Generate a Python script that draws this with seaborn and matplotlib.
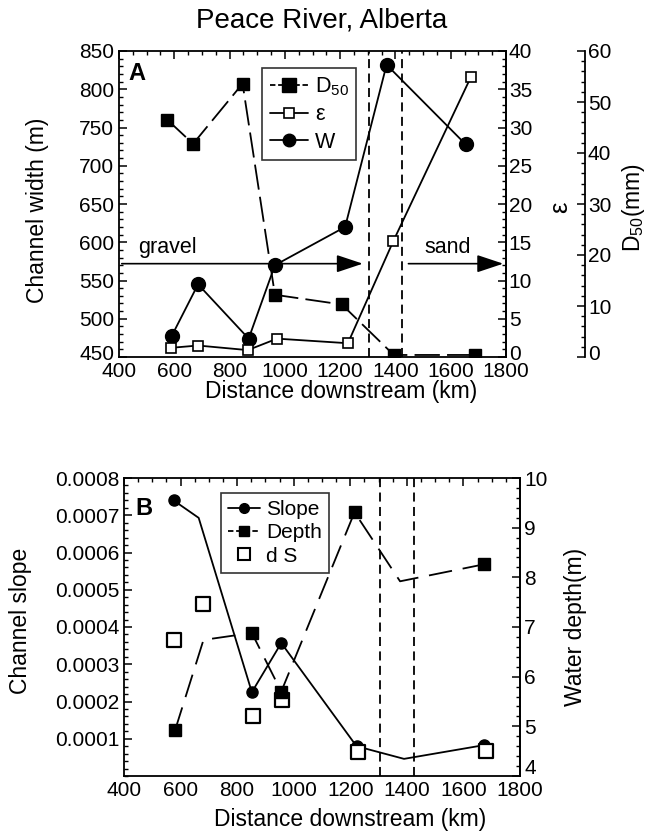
import matplotlib
matplotlib.use("Agg")
import matplotlib.pyplot as plt
from matplotlib.lines import Line2D
from matplotlib.ticker import MultipleLocator, FixedLocator, FuncFormatter
from matplotlib.transforms import ScaledTranslation
import seaborn as sns

sns.set_style("white")
plt.rcParams["font.family"] = ["Liberation Sans", "DejaVu Sans"]
plt.rcParams["mathtext.fontset"] = "custom"
plt.rcParams["mathtext.rm"] = "Liberation Sans"
plt.rcParams["mathtext.it"] = "Liberation Sans"
for key in ["text.color", "axes.labelcolor", "xtick.color", "ytick.color",
            "axes.edgecolor"]:
    plt.rcParams[key] = "black"

# ---------------- data (panel A) ----------------
w_km = [590, 686, 869, 964, 1218, 1368, 1654]
w_m = [477, 545, 474, 570, 620, 832, 728]
d50_km = [575, 668, 847, 964, 1206, 1394, 1687]
d50_mm = [46.5, 41.8, 53.6, 12.2, 10.3, 0.4, 0.4]
eps_km = [588, 686, 866, 972, 1228, 1393, 1673]
eps_val = [1.2, 1.5, 0.9, 2.4, 1.8, 15.2, 36.6]
transition_km = [1305, 1425]
arrow_level = 572

# ---------------- data (panel B) ----------------
slope_km = [575, 664, 852, 956, 1222, 1390, 1674]
slope_val = [0.00074, 0.000693, 0.000225, 0.000357, 0.00008, 0.000046, 0.000083]
slope_marked = [0, 2, 3, 4, 6]
depth_km = [581, 681, 852, 956, 1215, 1376, 1671]
depth_m = [4.93, 6.74, 6.88, 5.7, 9.31, 7.92, 8.26]
depth_marked = [0, 2, 3, 4, 6]
ds_km = [578, 681, 855, 959, 1227, 1681]
ds_val = [0.000365, 0.000462, 0.000161, 0.000204, 0.0000643, 0.0000662]

TICK = 15
LAB = 16.5
LEG = 15.5

fig = plt.figure(figsize=(6.57, 8.35), dpi=100)

W, H = 657, 835
def rect(l, r, t, b):
    return [l / W, 1 - b / H, (r - l) / W, (b - t) / H]

def style_ticks(a, which_axes="both", **kw):
    a.tick_params(axis=which_axes, which="both", direction="in", labelsize=TICK,
                  colors="black", **kw)
    a.tick_params(axis=which_axes, which="major", length=6, width=1.1)
    a.tick_params(axis=which_axes, which="minor", length=3, width=1)

def raise_label(a, text, px):
    for lab in a.get_yticklabels():
        if lab.get_text() == text:
            lab.set_transform(lab.get_transform() +
                              ScaledTranslation(0, px / 100, fig.dpi_scale_trans))

# ================= Panel A =================
ax = fig.add_axes(rect(119, 506, 51, 357))
ax2 = ax.twinx()
ax3 = ax.twinx()
ax3.spines["right"].set_position(("outward", 57))
for s in ["left", "top", "bottom"]:
    ax3.spines[s].set_visible(False)
    ax2.spines[s].set_visible(False)

lk = dict(color="black", lw=1.3, errorbar=None, legend=False)
sns.lineplot(x=d50_km, y=d50_mm, ax=ax3, marker="s", markersize=9,
             mfc="black", mec="black", mew=1, linestyle=(0, (14, 4)), **lk)
sns.lineplot(x=eps_km, y=eps_val, ax=ax2, marker="s", markersize=6.5,
             mfc="white", mec="black", mew=1.2, **lk)
sns.lineplot(x=w_km, y=w_m, ax=ax, marker="o", markersize=10,
             mfc="black", mec="black", mew=1, **lk)

ax.set_xlim(400, 1800)
ax.set_ylim(450, 850)
ax2.set_ylim(0, 40)
ax3.set_ylim(0, 60)

for xk in transition_km:
    ax.axvline(xk, color="black", lw=1.3, linestyle=(0, (5, 3)))

arw = dict(arrowstyle="-|>,head_length=0.9,head_width=0.3", color="black",
           lw=1.2, mutation_scale=18)
ax.annotate("", xy=(1292, arrow_level), xytext=(400, arrow_level), arrowprops=arw)
ax.annotate("", xy=(1800, arrow_level), xytext=(1437, arrow_level), arrowprops=arw)
ax.text(470, arrow_level + 8, "gravel", fontsize=TICK + 0.5, ha="left", va="bottom")
ax.text(1590, arrow_level + 8, "sand", fontsize=TICK + 0.5, ha="center", va="bottom")

ax.xaxis.set_major_locator(MultipleLocator(200))
ax.xaxis.set_minor_locator(MultipleLocator(50))
ax.yaxis.set_major_locator(MultipleLocator(50))
ax.yaxis.set_minor_locator(MultipleLocator(10))
ax2.yaxis.set_major_locator(MultipleLocator(5))
ax2.yaxis.set_minor_locator(MultipleLocator(1))
ax3.yaxis.set_major_locator(MultipleLocator(10))
ax3.yaxis.set_minor_locator(MultipleLocator(2))

style_ticks(ax, top=True, right=False)
style_ticks(ax2, "y", pad=2)
style_ticks(ax3, "y", pad=2)

for s in ax.spines.values():
    s.set_linewidth(1.3)
    s.set_color("black")
ax2.spines["right"].set_linewidth(1.3)
ax3.spines["right"].set_linewidth(1.3)

ax.set_xlabel("Distance downstream (km)", fontsize=LAB)
ax.xaxis.set_label_coords(0.574, -0.075)
ax.set_ylabel("Channel width (m)", fontsize=LAB)
ax.yaxis.set_label_coords(-0.18, 0.48)
ax2.set_ylabel("ε", fontsize=LAB + 2)
ax2.yaxis.set_label_coords(1.11, 0.49)
ax3.set_ylabel(r"D$_{50}$(mm)", fontsize=LAB)
ax3.yaxis.set_label_coords(1.295, 0.49)

raise_label(ax, "450", 5)
raise_label(ax2, "0", 5)
raise_label(ax3, "0", 4)

fig.text(0.49, 0.975, "Peace River, Alberta", fontsize=20, ha="center", va="center")
ax.text(0.025, 0.965, "A", transform=ax.transAxes, fontsize=17, fontweight="bold",
        ha="left", va="top")

hA = [Line2D([], [], color="black", lw=1.3, linestyle=(0, (3, 1.5)), marker="s",
             markersize=10, mfc="black", mec="black"),
      Line2D([], [], color="black", lw=1.3, marker="s", markersize=7, mfc="white",
             mec="black", mew=1.2),
      Line2D([], [], color="black", lw=1.3, marker="o", markersize=9, mfc="black",
             mec="black")]
legA = ax3.legend(hA, [r"D$_{50}$", "ε", "W"], loc="upper left",
                  bbox_to_anchor=(0.37, 0.945), fontsize=LEG, frameon=True,
                  fancybox=False, edgecolor="black", handlelength=1.8,
                  handletextpad=0.3, borderpad=0.35, labelspacing=0.3,
                  borderaxespad=0)
legA.get_frame().set_linewidth(1.2)

# ================= Panel B =================
bx = fig.add_axes(rect(124, 520, 478, 776))
bx2 = bx.twinx()
for s in ["left", "top", "bottom"]:
    bx2.spines[s].set_visible(False)

sns.lineplot(x=slope_km, y=slope_val, ax=bx, marker="o", markersize=8,
             markevery=slope_marked, mfc="black", mec="black", mew=1, **lk)
sns.lineplot(x=depth_km, y=depth_m, ax=bx2, marker="s", markersize=8,
             markevery=depth_marked, mfc="black", mec="black", mew=1,
             linestyle=(0, (13, 6)), **lk)
sns.scatterplot(x=ds_km, y=ds_val, ax=bx, marker="s", s=110, color="white",
                edgecolor="black", linewidth=1.6, zorder=3, legend=False)

bx.set_xlim(400, 1800)
bx.set_ylim(0, 0.0008)
bx2.set_ylim(4, 10)

for xk in transition_km:
    bx.axvline(xk, color="black", lw=1.3, linestyle=(0, (5, 3)))

bx.xaxis.set_major_locator(MultipleLocator(200))
bx.xaxis.set_minor_locator(MultipleLocator(50))
bx.yaxis.set_major_locator(FixedLocator([0.0001, 0.0002, 0.0003, 0.0004,
                                         0.0005, 0.0006, 0.0007, 0.0008]))
bx.yaxis.set_minor_locator(MultipleLocator(0.00002))
bx.yaxis.set_major_formatter(FuncFormatter(lambda v, p: f"{v:.4f}"))
bx2.yaxis.set_major_locator(MultipleLocator(1))
bx2.yaxis.set_minor_locator(MultipleLocator(0.2))

style_ticks(bx, top=True, right=False)
style_ticks(bx2, "y", pad=3)
for s in bx.spines.values():
    s.set_linewidth(1.3)
    s.set_color("black")
bx2.spines["right"].set_linewidth(1.3)

raise_label(bx2, "4", 9)

bx.set_xlabel("Distance downstream (km)", fontsize=LAB)
bx.xaxis.set_label_coords(0.571, -0.108)
bx.set_ylabel("Channel slope", fontsize=LAB)
bx.yaxis.set_label_coords(-0.232, 0.52)
bx2.set_ylabel("Water depth(m)", fontsize=LAB)
bx2.yaxis.set_label_coords(1.11, 0.5)

bx.text(0.028, 0.935, "B", transform=bx.transAxes, fontsize=17, fontweight="bold",
        ha="left", va="top")

hB = [Line2D([], [], color="black", lw=1.3, marker="o", markersize=7, mfc="black",
             mec="black"),
      Line2D([], [], color="black", lw=1.3, linestyle=(0, (3, 1.5)), marker="s",
             markersize=7, mfc="black", mec="black"),
      Line2D([], [], color="none", marker="s", markersize=9, mfc="white",
             mec="black", mew=1.5)]
legB = bx2.legend(hB, ["Slope", "Depth", "d S"], loc="upper left",
                  bbox_to_anchor=(0.245, 0.95), fontsize=LEG - 0.5, frameon=True,
                  fancybox=False, edgecolor="black", handlelength=1.5,
                  handletextpad=0.3, borderpad=0.35, labelspacing=0.2,
                  borderaxespad=0)
legB.get_frame().set_linewidth(1.2)

fig.savefig("out.png", dpi=100, facecolor="white")
